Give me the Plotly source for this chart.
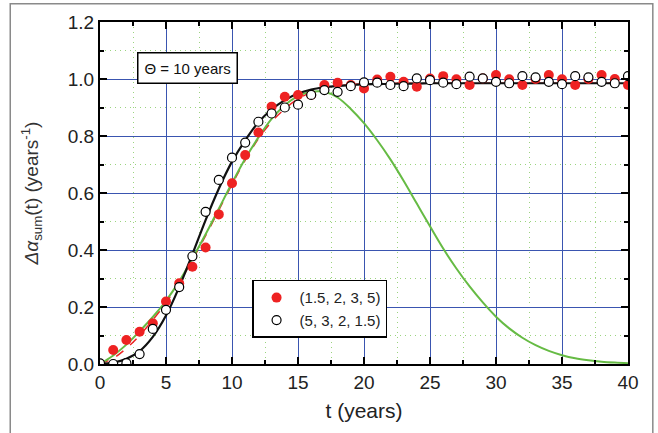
import plotly.graph_objects as go

# ---- data ----
t = list(range(0, 41))

red_pts = [0.000, 0.049, 0.084, 0.113, 0.143, 0.219, 0.283, 0.341, 0.409, 0.525,
           0.634, 0.733, 0.812, 0.903, 0.938, 0.944, 0.944, 0.979, 0.987, 0.979,
           0.967, 0.998, 1.008, 0.990, 0.973, 1.002, 1.010, 0.999, 0.979, 1.002,
           1.014, 0.999, 0.979, 1.000, 1.014, 0.999, 0.979, 1.000, 1.014, 1.000, 0.979]

open_pts = [0.002, 0.000, 0.003, 0.035, 0.123, 0.190, 0.270, 0.378, 0.534, 0.646,
            0.724, 0.777, 0.850, 0.879, 0.900, 0.910, 0.944, 0.961, 0.955, 0.975,
            0.988, 0.987, 0.979, 0.975, 1.002, 0.996, 0.987, 0.982, 1.008, 1.002,
            0.990, 0.985, 1.010, 1.006, 0.990, 0.982, 1.010, 1.006, 0.990, 0.985, 1.010]

black_fit = [0.000, 0.005, 0.018, 0.045, 0.095, 0.170, 0.270, 0.385, 0.505, 0.615,
             0.710, 0.785, 0.848, 0.893, 0.926, 0.949, 0.963, 0.971, 0.976, 0.979,
             0.981, 0.982, 0.983, 0.984, 0.984, 0.985, 0.985, 0.985, 0.985, 0.985,
             0.985, 0.985, 0.985, 0.985, 0.985, 0.985, 0.985, 0.985, 0.985, 0.985, 0.985]

red_fit = [0.000, 0.020, 0.055, 0.100, 0.155, 0.215, 0.285, 0.365, 0.450, 0.540,
           0.630, 0.715, 0.790, 0.850, 0.895, 0.930, 0.953, 0.967, 0.975, 0.980,
           0.983, 0.984, 0.985, 0.985, 0.985, 0.985, 0.985, 0.985, 0.985, 0.985,
           0.985, 0.985, 0.985, 0.985, 0.985, 0.985, 0.985, 0.985, 0.985, 0.985, 0.985]

green_curve = [0.000, 0.030, 0.068, 0.115, 0.165, 0.222, 0.290, 0.370, 0.455, 0.545,
               0.635, 0.720, 0.795, 0.860, 0.908, 0.940, 0.955, 0.955, 0.935, 0.895,
               0.845, 0.785, 0.718, 0.643, 0.563, 0.483, 0.405, 0.335, 0.272, 0.216,
               0.166, 0.125, 0.092, 0.066, 0.046, 0.031, 0.020, 0.013, 0.008, 0.005, 0.003]

legend_labels = ["(1.5, 2, 3, 5)", "(5, 3, 2, 1.5)"]
annotation_text = "\u0398 = 10 years"

FONT = "Liberation Sans, Arial, sans-serif"

fig = go.Figure()

fig.add_trace(go.Scatter(x=t, y=red_fit, mode="lines", line=dict(color="#ee2222", width=1.5, dash="dash"),
                         line_shape="spline", showlegend=False, hoverinfo="skip"))
fig.add_trace(go.Scatter(x=t, y=green_curve, mode="lines", line=dict(color="#66bb44", width=2),
                         line_shape="spline", showlegend=False))
fig.add_trace(go.Scatter(x=t, y=black_fit, mode="lines", line=dict(color="#111111", width=2.2),
                         line_shape="spline", showlegend=False))
fig.add_trace(go.Scatter(x=t, y=red_pts, mode="markers", name=legend_labels[0],
                         marker=dict(color="#ee2222", size=10, line=dict(width=0))))
fig.add_trace(go.Scatter(x=t, y=open_pts, mode="markers", name=legend_labels[1],
                         marker=dict(color="white", size=9, line=dict(color="black", width=1.2))))

axis_common = dict(
    showline=True, linecolor="black", linewidth=2, mirror="ticks",
    ticks="inside", ticklen=7, tickwidth=1.5, tickcolor="black",
    showgrid=True, gridcolor="#3a55b0", gridwidth=1,
    zeroline=False,
    tickfont=dict(family=FONT, size=19, color="#222222"),
)

fig.update_xaxes(
    range=[0, 40], dtick=5, tick0=0,
    minor=dict(dtick=2.5, showgrid=True, gridcolor="#9bd47f", griddash="1px,4px", gridwidth=1.2,
               ticks="inside", ticklen=4, tickcolor="black"),
    title=dict(text="t (years)", font=dict(family=FONT, size=21, color="#222222"), standoff=12),
    **axis_common,
)
fig.update_yaxes(
    range=[0, 1.2], dtick=0.2, tick0=0, tickformat=".1f",
    minor=dict(dtick=0.1, showgrid=True, gridcolor="#9bd47f", griddash="1px,4px", gridwidth=1.2,
               ticks="inside", ticklen=4, tickcolor="black"),
    title=dict(text="<i>\u0394\u03b1</i><sub>sum</sub>(t) (years<sup>-1</sup>)",
               font=dict(family=FONT, size=19, color="#333333"), standoff=24),
    **axis_common,
)

fig.add_annotation(
    x=6.6, y=1.04, xref="x", yref="y", text=annotation_text, showarrow=False,
    font=dict(family=FONT, size=15, color="#111111"),
    bordercolor="black", borderwidth=1.5, borderpad=6, bgcolor="white",
)

# outer grey frame
fig.add_shape(type="rect", xref="paper", yref="paper",
              x0=-0.170, x1=1.047, y0=-0.25, y1=1.053,
              line=dict(color="#8a8a8a", width=1.5), layer="below")

fig.update_layout(
    width=658, height=433,
    margin=dict(l=100, r=30, t=22, b=69),
    paper_bgcolor="white", plot_bgcolor="white",
    font=dict(family=FONT),
    legend=dict(
        x=0.288, y=0.246, xanchor="left", yanchor="top",
        bgcolor="white", bordercolor="black", borderwidth=1.5,
        font=dict(family=FONT, size=15, color="#222222"),
        itemwidth=36, tracegroupgap=0,
    ),
)

fig.write_html("out.html", config={"displayModeBar": False},
               post_script="document.body.style.margin='0px';")
